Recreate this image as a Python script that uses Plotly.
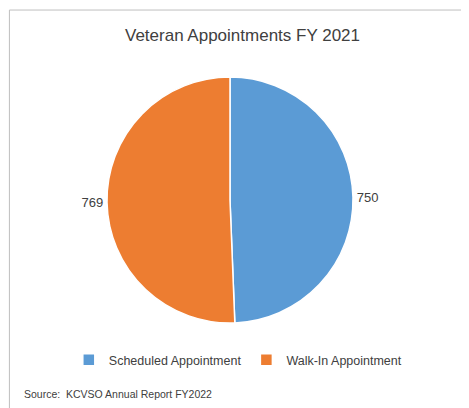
import plotly.graph_objects as go

labels = ["Scheduled Appointment", "Walk-In Appointment"]
values = [750, 769]
colors = ["#5B9BD5", "#ED7D31"]

W, H = 469, 408
fig = go.Figure(go.Pie(
    labels=labels, values=values, sort=False, direction="clockwise", rotation=0,
    marker=dict(colors=colors, line=dict(color="white", width=1.5)),
    textinfo="value", textposition="outside",
    textfont=dict(size=13, color="#404040"),
    domain=dict(x=[99/W, 345/W], y=[1-315/H, 1-69/H]),
    showlegend=True,
))
fig.update_layout(
    width=W, height=H, margin=dict(l=0, r=0, t=0, b=0),
    paper_bgcolor="white", font=dict(family="Liberation Sans, Arial", color="#404040"),
    title=dict(text="Veteran Appointments FY 2021", x=0.5, xanchor="center",
               y=1-27/H, yanchor="middle", font=dict(size=17, color="#404040")),
    legend=dict(orientation="h", x=0.49, xanchor="center", y=1-352/H, yanchor="middle",
                font=dict(size=12.5, color="#404040"), itemwidth=30),
    annotations=[dict(text="Source:  KCVSO Annual Report FY2022", x=14/W, y=1-386/H,
                      xref="paper", yref="paper", xanchor="left", yanchor="middle",
                      showarrow=False, font=dict(size=10.5, color="#404040"))],
    shapes=[dict(type="rect", xref="paper", yref="paper", x0=0.003, y0=0.003, x1=0.995, y1=0.995,
                 line=dict(color="#BFBFBF", width=1))],
)
fig.write_html("out.html")
